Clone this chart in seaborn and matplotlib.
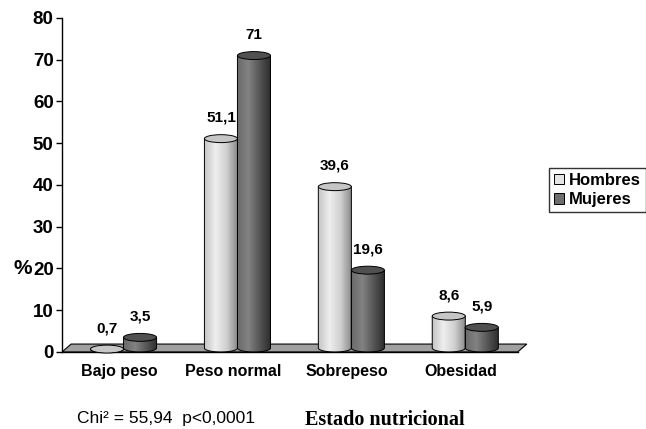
import numpy as np
import pandas as pd
import matplotlib
matplotlib.use("Agg")
import matplotlib.pyplot as plt
from matplotlib.patches import Ellipse, Polygon, Patch
from matplotlib.colors import LinearSegmentedColormap
import seaborn as sns

# Datos (lectura del gráfico)
categorias = ["Bajo peso", "Peso normal", "Sobrepeso", "Obesidad"]
hombres = [0.7, 51.1, 39.6, 8.6]
mujeres = [3.5, 71.0, 19.6, 5.9]
etiquetas_h = ["0,7", "51,1", "39,6", "8,6"]
etiquetas_m = ["3,5", "71", "19,6", "5,9"]
y_ticks = [0, 10, 20, 30, 40, 50, 60, 70, 80]

df = pd.DataFrame({
    "categoria": categorias * 2,
    "valor": hombres + mujeres,
    "sexo": ["Hombres"] * len(categorias) + ["Mujeres"] * len(categorias),
})

sns.set_theme(style="white")
plt.rcParams["font.family"] = ["Liberation Sans", "DejaVu Sans"]
plt.rcParams["text.color"] = "black"

fig = plt.figure(figsize=(6.46, 4.29), dpi=100)
ax = fig.add_axes([0.096, 0.1795, 0.723, 0.7786])

colores = {"Hombres": "#d4d4d4", "Mujeres": "#5e5e5e"}
sns.barplot(data=df, x="categoria", y="valor", hue="sexo", palette=colores,
            width=0.58, saturation=1, legend=False, ax=ax)

# Cilindros: degradado recortado + elipses
degradados = [
    LinearSegmentedColormap.from_list("h", ["#c4c4c4", "#eeeeee", "#d0d0d0", "#8a8a8a"]),
    LinearSegmentedColormap.from_list("m", ["#6a6a6a", "#828282", "#565656", "#2c2c2c"]),
]
tapas = ["#c6c6c6", "#505050"]
etiquetas = [etiquetas_h, etiquetas_m]
eh = 1.9      # alto de la elipse en unidades de datos
shift = 0.04  # desplazamiento por profundidad
grad = np.linspace(0, 1, 64).reshape(1, -1)

for cont, cmap, tapa, labs in zip(ax.containers, degradados, tapas, etiquetas):
    for patch, lab in zip(cont.patches, labs):
        x0 = patch.get_x() + shift
        w = patch.get_width()
        h = patch.get_height()
        cx = x0 + w / 2
        base = min(eh / 2, h)
        patch.set_facecolor("none")
        patch.set_edgecolor("none")

        t = np.linspace(np.pi, 2 * np.pi, 40)
        pts = [(cx + w / 2 * np.cos(a), base + eh / 2 * np.sin(a)) for a in t]
        pts += [(x0 + w, h), (x0, h)]
        cuerpo = Polygon(pts, closed=True, facecolor="none", edgecolor="black",
                         lw=0.7, zorder=3)
        ax.add_patch(cuerpo)
        im = ax.imshow(grad, cmap=cmap, extent=[x0, x0 + w, 0, h],
                       aspect="auto", origin="lower", zorder=2.5)
        im.set_clip_path(cuerpo)

        ax.add_patch(Ellipse((cx, h), w, eh, facecolor=tapa, edgecolor="black",
                             lw=0.7, zorder=4, clip_on=False))
        ax.annotate(lab, (cx, h), xytext=(0, 10), textcoords="offset points",
                    ha="center", va="bottom", fontsize=11, fontweight="bold",
                    color="black", annotation_clip=False)

# Suelo 3D
n = len(categorias)
ax.add_patch(Polygon([(-0.5, 0), (n - 0.5, 0), (n - 0.42, eh), (-0.42, eh)],
                     closed=True, facecolor="#a0a0a0", edgecolor="black",
                     lw=0.8, zorder=1))

ax.set_xlim(-0.5, n - 0.4)
ax.set_ylim(0, 80)
ax.set_yticks(y_ticks)
ax.set_yticklabels([str(v) for v in y_ticks], fontsize=13.5, fontweight="bold")
ax.set_xticks(range(n))
ax.set_xticklabels(categorias, fontsize=11.5, fontweight="bold")
ax.set_xticks(np.arange(-0.5, n), minor=True)
ax.tick_params(axis="x", which="major", length=0, pad=9, colors="black")
ax.tick_params(axis="x", which="minor", length=5, width=1, direction="out", color="black")
ax.tick_params(axis="y", length=4, width=1, direction="out", color="black", pad=2,
               left=True, labelcolor="black")

for s in ["top", "right"]:
    ax.spines[s].set_visible(False)
for s in ["left", "bottom"]:
    ax.spines[s].set_color("black")
    ax.spines[s].set_linewidth(1)
ax.spines["bottom"].set_bounds(-0.5, n - 0.5)

ax.set_xlabel("")
ax.set_ylabel("%", rotation=0, fontsize=15, fontweight="bold", color="black",
              va="center", ha="center")
ax.yaxis.set_label_coords(-0.085, 0.25)

leyenda = [Patch(facecolor="#e4e4e4", edgecolor="black", lw=0.7),
           Patch(facecolor="#6e6e6e", edgecolor="black", lw=0.7)]
leg = fig.legend(leyenda, ["Hombres", "Mujeres"], loc="upper left",
                 bbox_to_anchor=(549 / 646, 1 - 168 / 429), frameon=True,
                 fancybox=False, edgecolor="black",
                 prop={"weight": "bold", "size": 12},
                 handlelength=0.6, handleheight=0.6, handletextpad=0.3,
                 borderpad=0.3, labelspacing=0.25, borderaxespad=0)
leg.get_frame().set_linewidth(1)
for txt in leg.get_texts():
    txt.set_color("black")

fig.text(77 / 646, 1 - 419 / 429, "Chi² = 55,94  p<0,0001", fontsize=12.5,
         va="center", color="black")
fig.text(305 / 646, 1 - 420 / 429, "Estado nutricional", fontsize=14.5,
         fontweight="bold", family=["Liberation Serif", "DejaVu Serif"],
         va="center", color="black")

fig.savefig("out.png", dpi=100)
